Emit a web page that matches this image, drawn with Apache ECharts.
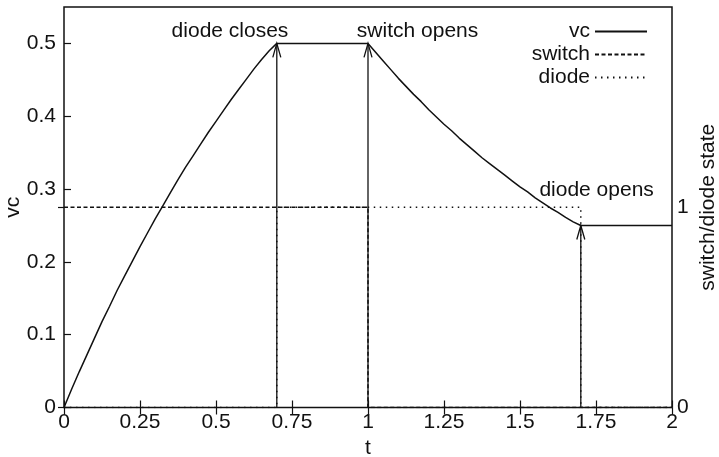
<!DOCTYPE html>
<html>
<head>
<meta charset="utf-8">
<script src="https://cdn.jsdelivr.net/npm/echarts@6/dist/echarts.min.js"></script>
<style>
html,body{margin:0;padding:0;background:#fff;}
#chart{width:719px;height:457px;}
</style>
</head>
<body>
<div id="chart"></div>
<script>
// ---- data ----
var vcT = [0,0.025,0.05,0.075,0.1,0.125,0.15,0.175,0.2,0.225,0.25,0.275,0.3,0.325,0.35,0.375,
           0.4,0.425,0.45,0.475,0.5,0.525,0.55,0.575,0.6,0.625,0.65,0.675,0.7,
           1.0,1.025,1.05,1.075,1.1,1.125,1.15,1.175,1.2,1.225,1.25,1.275,1.3,1.325,1.35,1.375,
           1.4,1.425,1.45,1.475,1.5,1.525,1.55,1.575,1.6,1.625,1.65,1.675,1.7,2.0];
var vcV = [0,0.025,0.049,0.072,0.095,0.118,0.139,0.161,0.181,0.201,0.221,0.240,0.259,0.277,0.295,0.313,
           0.330,0.346,0.362,0.378,0.393,0.408,0.423,0.437,0.451,0.465,0.478,0.490,0.5,
           0.5,0.488,0.476,0.464,0.452,0.441,0.430,0.420,0.409,0.399,0.389,0.380,0.370,0.361,0.352,0.343,
           0.335,0.327,0.319,0.311,0.303,0.296,0.288,0.281,0.274,0.268,0.261,0.255,0.25,0.25];
var switchT = [0,1,1,2];
var switchV = [1,1,0,0];
var diodeT = [0,0.7,0.7,1.7,1.7,2];
var diodeV = [0,0,1,1,0,0];
var arrowT = [0.7,1.0,1.7];
var arrowV = [0.5,0.5,0.25];
var noteText = ['diode closes','switch opens','diode opens'];
var noteT = [0.546,1.163,1.752];
var noteV = [0.5165,0.5165,0.299];

function zip(a,b){return a.map(function(v,i){return [v,b[i]];});}

var FONT = 'Liberation Sans, Arial, Helvetica, sans-serif';
var FS = 21;
var INK = '#111';
var chart = echarts.init(document.getElementById('chart'));
var txt = {fontFamily: FONT, fontSize: FS, color: INK};
function leg(name, top){
  return {data: [name], orient: 'vertical', right: 66, top: top, align: 'right',
          itemWidth: 52, itemHeight: 14, itemGap: 0, textStyle: txt,
          itemStyle: {opacity: 0}, selectedMode: false};
}

chart.setOption({
  animation: false,
  backgroundColor: '#fff',
  grid: {left: 64, top: 7, width: 608, height: 400.5, show: true, borderColor: INK, borderWidth: 1.5,
         backgroundColor: 'transparent', containLabel: false, outerBoundsMode: 'none'},
  legend: [leg('vc', 16), leg('switch', 39), leg('diode', 62)],
  xAxis: [
    {type: 'value', min: 0, max: 2, interval: 0.25, position: 'bottom',
     name: 't', nameLocation: 'middle', nameGap: 30, nameTextStyle: txt, nameMoveOverlap: false,
     axisLine: {show: false}, splitLine: {show: false},
     axisTick: {show: true, inside: true, length: 7, lineStyle: {color: INK, width: 1.2}},
     axisLabel: {margin: 4, fontFamily: FONT, fontSize: FS, color: INK,
       formatter: function(v){return String(v);}}},
    {type: 'value', min: 0, max: 2, interval: 0.25, position: 'top',
     axisLine: {show: false}, splitLine: {show: false}, axisLabel: {show: false},
     axisTick: {show: true, inside: true, length: 7, lineStyle: {color: INK, width: 1.2}}}
  ],
  yAxis: [
    {type: 'value', min: 0, max: 0.55, interval: 0.1, position: 'left',
     name: 'vc', nameLocation: 'middle', nameGap: 40, nameRotate: 90, nameTextStyle: txt, nameMoveOverlap: false,
     axisLine: {show: false}, splitLine: {show: false},
     axisTick: {show: true, inside: true, length: 7, lineStyle: {color: INK, width: 1.2}},
     axisLabel: {margin: 8, fontFamily: FONT, fontSize: FS, color: INK, showMaxLabel: false,
       formatter: function(v){return String(Math.round(v*10)/10);}}},
    {type: 'value', min: 0, max: 2, interval: 1, position: 'right',
     name: 'switch/diode state', nameLocation: 'middle', nameGap: 26, nameRotate: 90, nameTextStyle: txt, nameMoveOverlap: false,
     axisLine: {show: false}, splitLine: {show: false},
     axisTick: {show: true, inside: true, length: 6, lineStyle: {color: INK, width: 1.2}},
     axisLabel: {margin: 5, fontFamily: FONT, fontSize: FS, color: INK, showMaxLabel: false}}
  ],
  series: [
    {name: 'vc', type: 'line', xAxisIndex: 0, yAxisIndex: 0, data: zip(vcT, vcV),
     showSymbol: false, symbol: 'none', smooth: false, color: INK,
     lineStyle: {color: INK, width: 1.5}, z: 5},
    {name: 'switch', type: 'line', xAxisIndex: 0, yAxisIndex: 1, data: zip(switchT, switchV),
     showSymbol: false, symbol: 'none', color: INK,
     lineStyle: {color: INK, width: 1.5, type: [4, 2.5]}, z: 3},
    {name: 'diode', type: 'line', xAxisIndex: 0, yAxisIndex: 1, data: zip(diodeT, diodeV),
     showSymbol: false, symbol: 'none', color: INK,
     lineStyle: {color: INK, width: 1.5, type: [1.5, 4.5]}, z: 3},
    {name: 'arrows', type: 'custom', xAxisIndex: 0, yAxisIndex: 0, data: zip(arrowT, arrowV), z: 6,
     renderItem: function(params, api){
       var tip = api.coord([api.value(0), api.value(1)]);
       var base = api.coord([api.value(0), 0]);
       var st = {stroke: INK, lineWidth: 1.3, fill: null};
       return {type: 'group', children: [
         {type: 'line', shape: {x1: base[0], y1: base[1], x2: tip[0], y2: tip[1]}, style: st},
         {type: 'polyline', shape: {points: [[tip[0]-4, tip[1]+14], [tip[0], tip[1]], [tip[0]+4, tip[1]+14]]}, style: st}
       ]};
     }},
    {name: 'notes', type: 'custom', xAxisIndex: 0, yAxisIndex: 0, z: 7,
     data: noteText.map(function(s,i){return {value: [noteT[i], noteV[i]], name: s};}),
     renderItem: function(params, api){
       var p = api.coord([api.value(0), api.value(1)]);
       return {type: 'text', x: p[0], y: p[1], style: {text: noteText[params.dataIndex], font: FS + 'px ' + FONT, fill: INK, align: 'center', verticalAlign: 'middle'}};
     }}
  ]
});
</script>
</body>
</html>
